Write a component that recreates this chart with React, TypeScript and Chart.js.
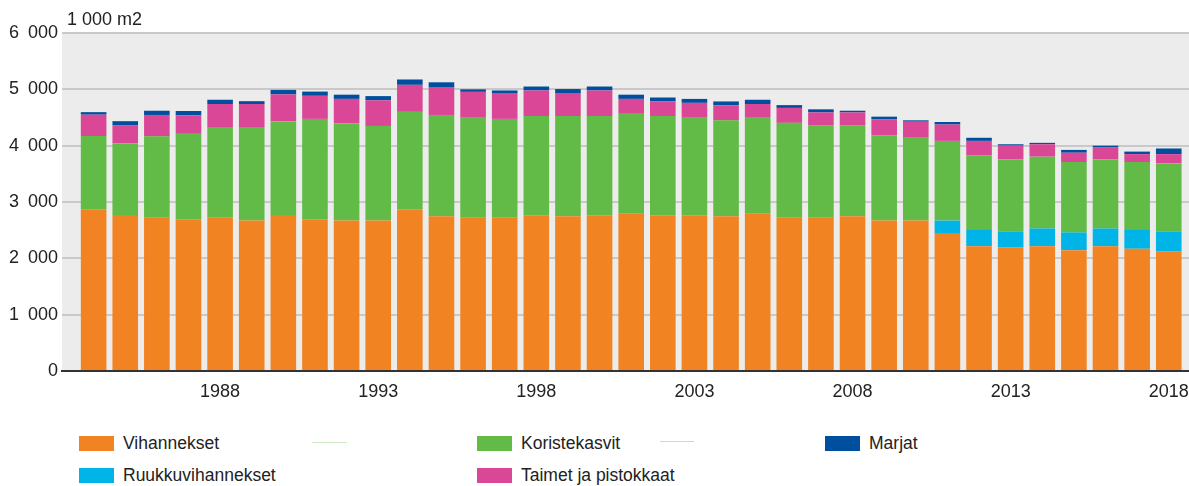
import React, { useEffect, useRef } from "react";
import { Chart, registerables } from "chart.js";

Chart.register(...registerables);

const years: number[] = [
  1984, 1985, 1986, 1987, 1988, 1989, 1990, 1991, 1992, 1993,
  1994, 1995, 1996, 1997, 1998, 1999, 2000, 2001, 2002, 2003,
  2004, 2005, 2006, 2007, 2008, 2009, 2010, 2011, 2012, 2013,
  2014, 2015, 2016, 2017, 2018,
];

const xTickYears: number[] = [1988, 1993, 1998, 2003, 2008, 2013, 2018];

const vihannekset: (number | null)[] = [
  2870, 2770, 2720, 2695, 2720, 2670, 2770, 2695, 2670, 2670,
  2870, 2745, 2720, 2720, 2765, 2745, 2765, 2790, 2765, 2765,
  2745, 2790, 2720, 2720, 2745, 2670, 2670, 2435, 2215, 2190,
  2215, 2145, 2215, 2170, 2120,
];

const ruukkuvihannekset: (number | null)[] = [
  null, null, null, null, null, null, null, null, null, null,
  null, null, null, null, null, null, null, null, null, null,
  null, null, null, null, null, null, null, 235, 290, 290,
  315, 315, 315, 335, 360,
];

const koristekasvit: (number | null)[] = [
  1300, 1275, 1445, 1515, 1610, 1660, 1660, 1780, 1730, 1680,
  1730, 1800, 1775, 1755, 1760, 1780, 1760, 1775, 1760, 1730,
  1705, 1705, 1685, 1635, 1610, 1515, 1470, 1415, 1320, 1275,
  1275, 1250, 1225, 1205, 1205,
];

const taimet: (number | null)[] = [
  380, 320, 380, 330, 410, 410, 480, 410, 430, 455,
  480, 485, 460, 460, 455, 410, 455, 265, 260, 265,
  265, 245, 265, 235, 235, 285, 285, 290, 260, 245,
  220, 165, 220, 140, 165,
];

const marjat: (number | null)[] = [
  45, 70, 75, 75, 75, 50, 80, 75, 75, 75,
  95, 95, 45, 45, 70, 70, 70, 75, 70, 70,
  70, 75, 50, 55, 30, 45, 25, 45, 55, 25,
  25, 50, 25, 45, 100,
];

const seriesNames = [
  "Vihannekset",
  "Ruukkuvihannekset",
  "Koristekasvit",
  "Taimet ja pistokkaat",
  "Marjat",
];
const seriesColors = ["#f28323", "#00b4e8", "#62bb46", "#da4797", "#004f9e"];
const seriesData = [vihannekset, ruukkuvihannekset, koristekasvit, taimet, marjat];

const unitLabel = "1 000 m2";
const FONT = "'Liberation Sans', Arial, sans-serif";

function formatThousands(v: number): string {
  if (v === 0) return "0";
  const th = Math.floor(v / 1000);
  const rest = String(Math.round(v % 1000)).padStart(3, "0");
  return `${th}\u2002${rest}`;
}

const bgPlugin = {
  id: "plotBg",
  beforeDraw(chart: any) {
    const { ctx, chartArea } = chart;
    ctx.save();
    ctx.fillStyle = "#ececec";
    ctx.fillRect(chartArea.left, chartArea.top, chartArea.right - chartArea.left, chartArea.bottom - chartArea.top);
    ctx.restore();
  },
  afterDraw(chart: any) {
    const { ctx, chartArea } = chart;
    ctx.save();
    ctx.fillStyle = "#222";
    ctx.font = `18px ${FONT}`;
    ctx.textBaseline = "middle";
    ctx.textAlign = "left";
    ctx.fillText(unitLabel, chartArea.left + 5, 20);
    ctx.restore();
  },
};

export default function App() {
  const ref = useRef<HTMLCanvasElement | null>(null);

  useEffect(() => {
    if (!ref.current) return;
    const datasets = seriesNames.map((name, si) => ({
      label: name,
      data: years.map((y, i) => ({ x: y, y: seriesData[si][i] })),
      backgroundColor: seriesColors[si],
      borderWidth: 0,
      barPercentage: 0.81,
      categoryPercentage: 1,
    }));
    const chart = new Chart(ref.current, {
      type: "bar",
      data: { datasets: datasets as any },
      options: {
        animation: false,
        responsive: false,
        layout: { padding: { top: 33, left: 0, right: 0, bottom: 0 } },
        plugins: { legend: { display: false }, tooltip: { enabled: false }, title: { display: false } },
        scales: {
          x: {
            type: "linear",
            stacked: true,
            offset: false,
            bounds: "data",
            min: 1983,
            max: 2018.64,
            grid: { display: false, drawTicks: false, offset: false },
            border: { display: true, color: "#333", width: 2 },
            ticks: {
              color: "#222",
              font: { family: FONT, size: 18 },
              padding: 10,
              maxRotation: 0,
              autoSkip: false,
              callback: (v: any) => String(v),
            },
            afterBuildTicks: (scale: any) => {
              scale.ticks = xTickYears.map((v) => ({ value: v }));
            },
            afterFit: (scale: any) => {
              scale.height = 39;
              scale.paddingLeft = 0;
              scale.paddingRight = 0;
            },
          },
          y: {
            stacked: true,
            min: 0,
            max: 6000,
            grid: { color: "#c9c9c9", lineWidth: 2, drawTicks: false },
            border: { display: false },
            ticks: {
              stepSize: 1000,
              color: "#222",
              font: { family: FONT, size: 18 },
              padding: 4,
              callback: (v: any) => formatThousands(Number(v)),
            },
            afterFit: (scale: any) => {
              scale.width = 62;
            },
          },
        },
      },
      plugins: [bgPlugin],
    });
    return () => chart.destroy();
  }, []);

  const legendItems = [
    { name: seriesNames[0], color: seriesColors[0], left: 79, top: 436 },
    { name: seriesNames[1], color: seriesColors[1], left: 79, top: 468 },
    { name: seriesNames[2], color: seriesColors[2], left: 477, top: 436 },
    { name: seriesNames[3], color: seriesColors[3], left: 477, top: 468 },
    { name: seriesNames[4], color: seriesColors[4], left: 825, top: 436 },
  ];

  return (
    <div style={{ position: "absolute", left: 0, top: 0, width: 1189, height: 486, background: "#fff", fontFamily: FONT }}>
      <canvas ref={ref} width={1189} height={410} style={{ position: "absolute", left: 0, top: 0 }} />
      {legendItems.map((it) => (
        <React.Fragment key={it.name}>
          <div style={{ position: "absolute", left: it.left, top: it.top, width: 35, height: 15, background: it.color }} />
          <div
            style={{
              position: "absolute",
              left: it.left + 44,
              top: it.top - 4,
              height: 22,
              lineHeight: "22px",
              fontSize: 17.5,
              color: "#222",
              whiteSpace: "nowrap",
            }}
          >
            {it.name}
          </div>
        </React.Fragment>
      ))}
      <div style={{ position: "absolute", left: 312, top: 442, width: 35, height: 1, background: "#cfe8c6" }} />
      <div style={{ position: "absolute", left: 660, top: 441, width: 34, height: 1, background: "#c9d6e6" }} />
    </div>
  );
}
